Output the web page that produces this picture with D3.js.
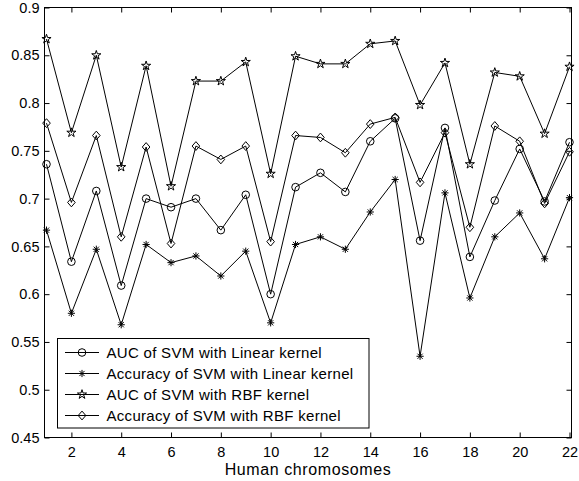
<!DOCTYPE html>
<html>
<head>
<meta charset="utf-8">
<script src="https://cdn.jsdelivr.net/npm/d3@7"></script>
<style>
  html, body { margin: 0; padding: 0; background: #fff; }
  svg { display: block; }
  text { font-family: "Liberation Sans", Arial, Helvetica, sans-serif; fill: #000; }
</style>
</head>
<body>
<svg id="chart" width="579" height="481"></svg>
<script>
// ---- Data ----
const chromosomes = [1,2,3,4,5,6,7,8,9,10,11,12,13,14,15,16,17,18,19,20,21,22];
const aucLinear = [0.736,0.634,0.708,0.609,0.700,0.691,0.700,0.667,0.704,0.600,0.712,0.727,0.707,0.760,0.784,0.656,0.774,0.639,0.698,0.752,0.697,0.759];
const accLinear = [0.667,0.580,0.647,0.568,0.652,0.633,0.640,0.619,0.645,0.570,0.652,0.660,0.647,0.686,0.720,0.535,0.706,0.596,0.660,0.685,0.637,0.701];
const aucRBF    = [0.867,0.769,0.850,0.733,0.839,0.713,0.823,0.823,0.843,0.726,0.849,0.841,0.841,0.862,0.865,0.798,0.842,0.736,0.832,0.828,0.768,0.838];
const accRBF    = [0.779,0.696,0.766,0.660,0.754,0.653,0.755,0.741,0.755,0.655,0.766,0.764,0.748,0.778,0.785,0.717,0.769,0.670,0.776,0.760,0.695,0.749];
const seriesNames = ["AUC of SVM with Linear kernel","Accuracy of SVM with Linear kernel","AUC of SVM with RBF kernel","Accuracy of SVM with RBF kernel"];
const xTicks = [2,4,6,8,10,12,14,16,18,20,22];
const yTicks = [0.45,0.5,0.55,0.6,0.65,0.7,0.75,0.8,0.85,0.9];
const yTickLabels = ["0.45","0.5","0.55","0.6","0.65","0.7","0.75","0.8","0.85","0.9"];
const xLabel = "Human chromosomes";

// ---- Layout ----
const svg = d3.select("#chart");
const box = {left: 44.5, right: 571.5, top: 7.5, bottom: 437.5};
const x = d3.scaleLinear().domain([1, 22]).range([46.5, 569.5]);
const y = d3.scaleLinear().domain([0.45, 0.9]).range([box.bottom, box.top]);

const tickFont = "14.5px";

// axes (inward ticks on all four sides)
const gB = svg.append("g").attr("transform", `translate(0,${box.bottom})`)
  .call(d3.axisBottom(x).tickValues(xTicks).tickSize(-5).tickPadding(9).tickFormat(d3.format("d")));
const gT = svg.append("g").attr("transform", `translate(0,${box.top})`)
  .call(d3.axisTop(x).tickValues(xTicks).tickSize(-5).tickFormat(""));
const gL = svg.append("g").attr("transform", `translate(${box.left},0)`)
  .call(d3.axisLeft(y).tickValues(yTicks).tickSize(-5).tickPadding(5).tickFormat((d,i) => yTickLabels[i]));
const gR = svg.append("g").attr("transform", `translate(${box.right},0)`)
  .call(d3.axisRight(y).tickValues(yTicks).tickSize(-5).tickFormat(""));
[gB, gT, gL, gR].forEach(g => {
  g.select(".domain").remove();
  g.selectAll(".tick line").attr("stroke", "#000").attr("stroke-width", 1);
  g.selectAll("text").style("font-size", tickFont).attr("fill", "#000");
});
// axis frame
svg.append("rect")
  .attr("x", box.left).attr("y", box.top)
  .attr("width", box.right - box.left).attr("height", box.bottom - box.top)
  .attr("fill", "none").attr("stroke", "#000").attr("stroke-width", 1);

// ---- Markers ----
function markerPath(type) {
  if (type === "circle") {
    const r = 3.8;
    return `M${-r},0A${r},${r} 0 1,0 ${r},0A${r},${r} 0 1,0 ${-r},0Z`;
  }
  if (type === "asterisk") {
    const r = 3.6, d = r * 0.72;
    return `M${-r},0L${r},0M0,${-r}L0,${r}M${-d},${-d}L${d},${d}M${-d},${d}L${d},${-d}`;
  }
  if (type === "diamond") {
    const w = 3.8, h = 4.4;
    return `M0,${-h}L${w},0L0,${h}L${-w},0Z`;
  }
  if (type === "star") {
    return d3.symbol(d3.symbolStar, 26)();
  }
}

const series = [
  {name: seriesNames[0], values: aucLinear, marker: "circle"},
  {name: seriesNames[1], values: accLinear, marker: "asterisk"},
  {name: seriesNames[2], values: aucRBF, marker: "star"},
  {name: seriesNames[3], values: accRBF, marker: "diamond"}
];

const line = d3.line().x(d => x(d[0])).y(d => y(d[1]));

series.forEach(s => {
  const pts = chromosomes.map((c, i) => [c, s.values[i]]);
  svg.append("path").datum(pts).attr("d", line)
    .attr("fill", "none").attr("stroke", "#000").attr("stroke-width", 1);
  svg.append("g").selectAll("path").data(pts).join("path")
    .attr("transform", d => `translate(${x(d[0])},${y(d[1])})`)
    .attr("d", markerPath(s.marker))
    .attr("fill", "none").attr("stroke", "#000").attr("stroke-width", 1);
});

// ---- Legend ----
const lg = {x: 57.5, y: 338.5, w: 311.5, h: 89.5};
svg.append("rect").attr("x", lg.x).attr("y", lg.y).attr("width", lg.w).attr("height", lg.h)
  .attr("fill", "#fff").attr("stroke", "#000").attr("stroke-width", 1);
const rowY = [352.5, 373.5, 394.5, 415.5];
series.forEach((s, i) => {
  const g = svg.append("g").attr("transform", `translate(0,${rowY[i]})`);
  g.append("line").attr("x1", 65).attr("x2", 99).attr("y1", 0).attr("y2", 0)
    .attr("stroke", "#000").attr("stroke-width", 1);
  g.append("path").attr("transform", "translate(82,0)").attr("d", markerPath(s.marker))
    .attr("fill", "none").attr("stroke", "#000").attr("stroke-width", 1);
  g.append("text").attr("x", 106.5).attr("y", 5.5)
    .style("font-size", "15px").style("letter-spacing", "0.3px")
    .text(s.name);
});

// ---- Axis label ----
svg.append("text").attr("x", 308).attr("y", 475).attr("text-anchor", "middle")
  .style("font-size", "16px").style("letter-spacing", "0.6px")
  .text(xLabel);
</script>
</body>
</html>
